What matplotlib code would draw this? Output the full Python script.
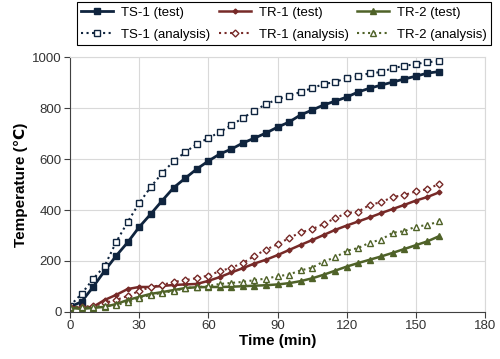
import matplotlib.pyplot as plt
import numpy as np

plt.rcParams['font.family'] = ['Liberation Sans', 'DejaVu Sans']

# time steps (min)
time = np.arange(0, 161, 5)

ts1_test = [20, 40, 98, 161, 220, 273, 333, 384, 437, 488, 525, 561, 592, 620, 639, 663, 682,
            702, 725, 745, 773, 792, 812, 827, 843, 863, 878, 890, 902, 914, 925, 937, 943]
ts1_anal = [24, 71, 129, 180, 274, 353, 427, 490, 545, 592, 627, 659, 682, 706, 733, 761, 790,
            815, 835, 848, 863, 878, 894, 902, 918, 925, 937, 941, 957, 965, 973, 980, 984]
tr1_test = [20, 16, 20, 47, 67, 90, 98, 98, 102, 106, 108, 110, 122, 137, 155, 172, 190,
            205, 223, 243, 263, 282, 302, 322, 339, 355, 371, 388, 404, 420, 437, 451, 469]
tr1_anal = [20, 20, 24, 35, 47, 63, 82, 98, 106, 118, 125, 133, 143, 160, 174, 192, 220,
            245, 265, 290, 312, 325, 345, 368, 388, 394, 420, 431, 451, 459, 473, 482, 502]
tr2_test = [16, 12, 16, 20, 31, 47, 59, 71, 78, 86, 94, 97, 98, 98, 99, 101, 103,
            105, 108, 113, 121, 132, 146, 162, 178, 192, 205, 218, 232, 247, 262, 277, 297]
tr2_anal = [20, 20, 20, 24, 27, 39, 55, 67, 75, 82, 94, 97, 102, 110, 114, 118, 125,
            131, 140, 147, 163, 174, 198, 214, 240, 251, 272, 284, 311, 317, 335, 341, 355]

c_ts = '#0F243E'
c_tr1 = '#772A28'
c_tr2 = '#4F6228'

fig = plt.figure(figsize=(5, 3.59), dpi=100)
ax = fig.add_axes([0.14, 0.131, 0.83, 0.71])

ax.plot(time, ts1_test, '-', color=c_ts, lw=2, marker='s', ms=4.5, label='TS-1 (test)')
ax.plot(time, ts1_anal, ':', color=c_ts, lw=1.5, marker='s', ms=5, mfc='white', mew=1,
        label='TS-1 (analysis)')
ax.plot(time, tr1_test, '-', color=c_tr1, lw=1.8, marker='D', ms=2.5, label='TR-1 (test)')
ax.plot(time, tr1_anal, ':', color=c_tr1, lw=1.5, marker='D', ms=3.5, mfc='white', mew=1,
        label='TR-1 (analysis)')
ax.plot(time, tr2_test, '-', color=c_tr2, lw=1.8, marker='^', ms=4.5, label='TR-2 (test)')
ax.plot(time, tr2_anal, ':', color=c_tr2, lw=1.5, marker='^', ms=5, mfc='white', mew=1,
        label='TR-2 (analysis)')

ax.set_xlim(0, 180)
ax.set_ylim(0, 1000)
ax.set_xticks(np.arange(0, 181, 30))
ax.set_yticks(np.arange(0, 1001, 200))
ax.grid(True, color='#D9D9D9', lw=0.8)
ax.set_axisbelow(True)
for s in ['top', 'right']:
    ax.spines[s].set_color('#D9D9D9')
for s in ['left', 'bottom']:
    ax.spines[s].set_color('#404040')
ax.tick_params(labelsize=9.5, colors='#333333', length=4, direction='out', pad=2)
ax.tick_params(axis='both', color='#404040')

ax.set_xlabel('Time (min)', fontsize=11, fontweight='bold', labelpad=1)
ax.set_ylabel('Temperature (℃)', fontsize=11, fontweight='bold', labelpad=3)

h, l = ax.get_legend_handles_labels()
leg = fig.legend(h, l, ncol=3,
                 loc='lower left', bbox_to_anchor=(0.14, 0.855, 0.856, 0.131),
                 mode='expand', fontsize=9.5, fancybox=False, framealpha=1,
                 edgecolor='black', handlelength=2.4, borderpad=0.35,
                 labelspacing=0.75, columnspacing=0.6, handletextpad=0.6)
leg.get_frame().set_linewidth(0.8)

fig.savefig('out.png', dpi=100)
